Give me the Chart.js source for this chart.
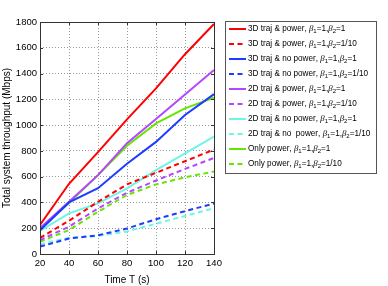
<!DOCTYPE html>
<html>
<head>
<meta charset="utf-8">
<script src="https://cdn.jsdelivr.net/npm/chart.js@4.4.0/dist/chart.umd.min.js"></script>
<style>
  html, body { margin: 0; padding: 0; background: #fff; }
</style>
</head>
<body>
<canvas id="grafico" width="388" height="286"></canvas>
<script>
// datos
const tiempos = [20, 40, 60, 80, 100, 120, 140];
const ticksX = [20, 40, 60, 80, 100, 120, 140];
const ticksY = [0, 200, 400, 600, 800, 1000, 1200, 1400, 1600, 1800];

const traj3dPot_b1 = [225, 545, 790, 1045, 1285, 1550, 1785];
const traj3dPot_b10 = [125, 258, 405, 540, 630, 720, 810];
const traj3dSinPot_b1 = [185, 400, 510, 700, 870, 1078, 1240];
const traj3dSinPot_b10 = [57, 120, 145, 198, 270, 332, 392];
const traj2dPot_b1 = [200, 405, 612, 860, 1048, 1238, 1428];
const traj2dPot_b10 = [108, 212, 354, 475, 570, 660, 745];
const traj2dSinPot_b1 = [180, 315, 393, 510, 650, 780, 910];
const traj2dSinPot_b10 = [75, 126, 140, 175, 235, 295, 355];
const soloPot_b1 = [198, 395, 612, 840, 1013, 1130, 1212];
const soloPot_b10 = [95, 186, 328, 458, 540, 595, 640];

const etiquetas = [
  '3D traj & power, β₁=1,β₂=1',
  '3D traj & power, β₁=1,β₂=1/10',
  '3D traj & no power, β₁=1,β₂=1',
  '3D traj & no power, β₁=1,β₂=1/10',
  '2D traj & power, β₁=1,β₂=1',
  '2D traj & power, β₁=1,β₂=1/10',
  '2D traj & no power, β₁=1,β₂=1',
  '2D traj & no  power, β₁=1,β₂=1/10',
  'Only power, β₁=1,β₂=1',
  'Only power, β₁=1,β₂=1/10'
];

const ROJO = 'rgb(255,0,0)';
const AZUL = 'rgb(30,60,255)';
const MORADO = 'rgb(180,70,255)';
const CIAN = 'rgb(110,245,230)';
const VERDE = 'rgb(100,230,0)';

const series = [
  [traj3dPot_b1, ROJO, false],
  [traj3dPot_b10, ROJO, true],
  [traj3dSinPot_b1, AZUL, false],
  [traj3dSinPot_b10, AZUL, true],
  [traj2dPot_b1, MORADO, false],
  [traj2dPot_b10, MORADO, true],
  [traj2dSinPot_b1, CIAN, false],
  [traj2dSinPot_b10, CIAN, true],
  [soloPot_b1, VERDE, false],
  [soloPot_b10, VERDE, true]
];

const DASH = [5, 3.5];
const FUENTE = '"Liberation Sans", Arial, sans-serif';

// texto con beta en cursiva y subindices
function textoMixto(ctx, texto, x, y) {
  for (const ch of texto) {
    if (ch === '₁' || ch === '₂') {
      ctx.font = '6px ' + FUENTE;
      const d = ch === '₁' ? '1' : '2';
      ctx.fillText(d, x, y + 2.5);
      x += ctx.measureText(d).width;
    } else if (ch === 'β') {
      ctx.font = 'italic 8.8px "Liberation Serif", "Times New Roman", serif';
      ctx.fillText(ch, x, y);
      x += ctx.measureText(ch).width;
    } else {
      ctx.font = '8.2px ' + FUENTE;
      ctx.fillText(ch, x, y);
      x += ctx.measureText(ch).width;
    }
  }
}

const marcoPlugin = {
  id: 'marco',
  afterDatasetsDraw(chart) {
    const { ctx, chartArea: a, scales } = chart;
    ctx.save();
    ctx.strokeStyle = '#333';
    ctx.lineWidth = 1;
    ctx.setLineDash([]);
    ctx.strokeRect(Math.round(a.left) + 0.5, Math.round(a.top) + 0.5,
      Math.round(a.right - a.left), Math.round(a.bottom - a.top));
    // marcas hacia adentro
    ctx.beginPath();
    scales.x.ticks.forEach(t => {
      const px = Math.round(scales.x.getPixelForValue(t.value)) + 0.5;
      ctx.moveTo(px, a.bottom); ctx.lineTo(px, a.bottom - 3);
      ctx.moveTo(px, a.top); ctx.lineTo(px, a.top + 3);
    });
    scales.y.ticks.forEach(t => {
      const py = Math.round(scales.y.getPixelForValue(t.value)) + 0.5;
      ctx.moveTo(a.left, py); ctx.lineTo(a.left + 3, py);
      ctx.moveTo(a.right, py); ctx.lineTo(a.right - 3, py);
    });
    ctx.stroke();
    ctx.restore();
  },
  afterDraw(chart) {
    const ctx = chart.ctx;
    const x0 = 225, y0 = 21, w = 151, h = 152;
    ctx.save();
    ctx.fillStyle = '#fff';
    ctx.fillRect(x0, y0, w, h);
    ctx.strokeStyle = '#555';
    ctx.lineWidth = 1;
    ctx.strokeRect(x0 + 0.5, y0 + 0.5, w, h);
    ctx.textBaseline = 'middle';
    chart.data.datasets.forEach((ds, i) => {
      const y = 29 + i * 15;
      ctx.strokeStyle = ds.borderColor;
      ctx.lineWidth = 2;
      ctx.setLineDash(ds.borderDash || []);
      ctx.beginPath();
      ctx.moveTo(229, y);
      ctx.lineTo(246, y);
      ctx.stroke();
      ctx.setLineDash([]);
      ctx.fillStyle = '#000';
      textoMixto(ctx, ds.label, 248, y);
    });
    ctx.restore();
  }
};

new Chart(document.getElementById('grafico'), {
  type: 'line',
  data: {
    datasets: series.map((s, i) => ({
      label: etiquetas[i],
      data: tiempos.map((t, j) => ({ x: t, y: s[0][j] })),
      borderColor: s[1],
      borderWidth: 2,
      borderDash: s[2] ? DASH : [],
      pointRadius: 0,
      fill: false,
      tension: 0
    }))
  },
  options: {
    responsive: false,
    animation: false,
    layout: { padding: { left: 0, top: 22, right: 174, bottom: 0 } },
    plugins: { legend: { display: false }, tooltip: { enabled: false } },
    scales: {
      x: {
        type: 'linear',
        min: 20, max: 140,
        afterBuildTicks: s => { s.ticks = ticksX.map(v => ({ value: v })); },
        afterFit: s => { s.height = 32; },
        ticks: { color: '#000', padding: 4, maxRotation: 0, callback: v => String(v), font: { family: FUENTE, size: 9.5 } },
        grid: { color: '#999', drawTicks: false, lineWidth: 1 },
        border: { display: false, dash: [1, 2] },
        title: { display: true, text: 'Time T (s)', color: '#000', padding: { top: 2, bottom: 0 }, font: { family: FUENTE, size: 10 } }
      },
      y: {
        min: 0, max: 1800,
        afterBuildTicks: s => { s.ticks = ticksY.map(v => ({ value: v })); },
        afterFit: s => { s.width = 40; },
        ticks: { color: '#000', padding: 3, callback: v => String(v), font: { family: FUENTE, size: 9.5 } },
        grid: { color: '#999', drawTicks: false, lineWidth: 1 },
        border: { display: false, dash: [1, 2] },
        title: { display: true, text: 'Total system throughput (Mbps)', color: '#000', padding: { top: 1, bottom: 0 }, font: { family: FUENTE, size: 10 } }
      }
    }
  },
  plugins: [marcoPlugin]
});
</script>
</body>
</html>
